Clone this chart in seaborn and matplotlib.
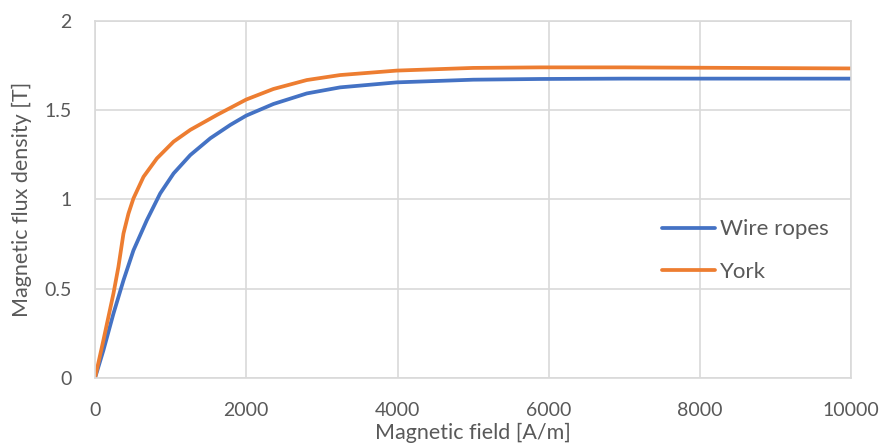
import pandas as pd
import matplotlib
matplotlib.use("Agg")
import matplotlib.pyplot as plt
import seaborn as sns

# B-H curves
wire_h = [0, 110, 243, 376, 508, 685, 862, 1039, 1260, 1525, 1790, 2000, 2359, 2800,
          3241, 3990, 5000, 5886, 7000, 8000, 9000, 10000]
wire_b = [0, 0.154, 0.36, 0.547, 0.715, 0.884, 1.034, 1.146, 1.249, 1.343, 1.418, 1.47,
          1.535, 1.594, 1.628, 1.656, 1.671, 1.675, 1.677, 1.677, 1.677, 1.677]

york_h = [0, 110, 243, 309, 376, 442, 508, 641, 818, 1039, 1260, 1614, 2000, 2359, 2800,
          3241, 3990, 5000, 5886, 7000, 8000, 9000, 10000]
york_b = [0, 0.21, 0.472, 0.622, 0.809, 0.921, 1.006, 1.127, 1.23, 1.324, 1.39, 1.474,
          1.56, 1.619, 1.669, 1.697, 1.722, 1.737, 1.740, 1.740, 1.738, 1.736, 1.734]

df = pd.concat([
    pd.DataFrame({"H": wire_h, "B": wire_b, "series": "Wire ropes"}),
    pd.DataFrame({"H": york_h, "B": york_b, "series": "York"}),
])

sns.set_theme(style="whitegrid")
plt.rcParams["font.family"] = ["Lato", "DejaVu Sans"]
text_color = "#595959"
grid_color = "#d9d9d9"

fig = plt.figure(figsize=(8.84, 4.46), dpi=100)
ax = fig.add_axes([0.1075, 0.1525, 0.8555, 0.8005])

sns.lineplot(data=df, x="H", y="B", hue="series", sort=False,
             palette={"Wire ropes": "#4472C4", "York": "#ED7D31"},
             linewidth=2.7, ax=ax)
for line in ax.get_lines():
    line.set_solid_capstyle("round")
    line.set_solid_joinstyle("round")

ax.set_xlim(0, 10000)
ax.set_ylim(0, 2)
ax.set_xticks([0, 2000, 4000, 6000, 8000, 10000])
ax.set_yticks([0, 0.5, 1, 1.5, 2])
ax.set_yticklabels(["0", "0.5", "1", "1.5", "2"])
ax.grid(True, color=grid_color, linewidth=1.2)
for s in ax.spines.values():
    s.set_color(grid_color)
    s.set_linewidth(1.2)
ax.tick_params(colors=text_color, labelsize=14, length=0)
ax.tick_params(axis="x", pad=17)
ax.tick_params(axis="y", pad=17)

ax.set_xlabel("Magnetic field [A/m]", fontsize=15.5, color=text_color, labelpad=3)
ax.set_ylabel("Magnetic flux density [T]", fontsize=15.5, color=text_color, labelpad=9)

leg = ax.legend(loc="center left", bbox_to_anchor=(0.723, 0.357), frameon=False,
                fontsize=16, handlelength=2.4, handletextpad=0.2, labelspacing=1.0)
for t in leg.get_texts():
    t.set_color(text_color)
for h in leg.get_lines():
    h.set_linewidth(2.7)
    h.set_solid_capstyle("round")

fig.savefig("out.png", dpi=100)
